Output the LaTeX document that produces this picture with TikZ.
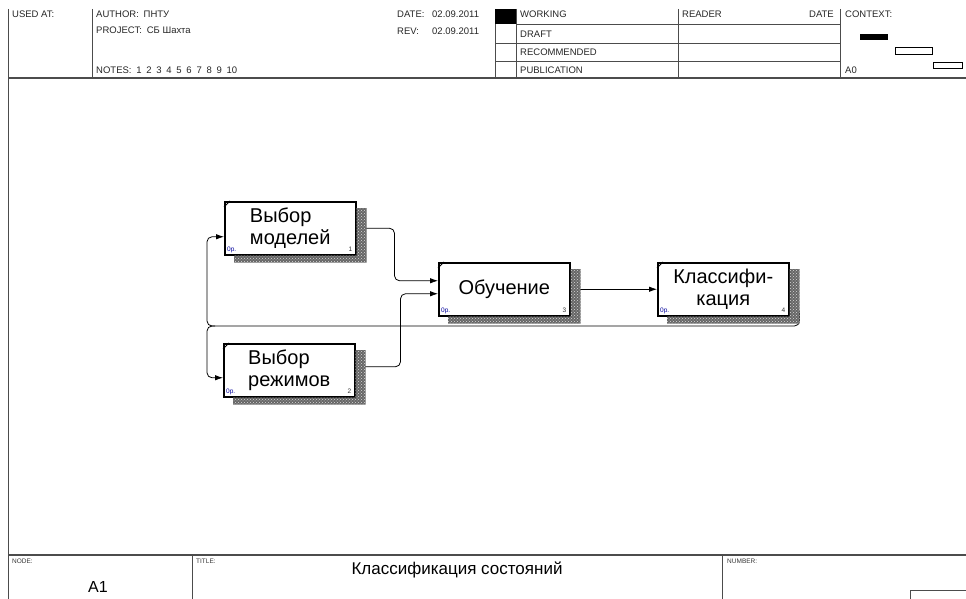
\documentclass[tikz,border=0pt]{standalone}
\usepackage{fontspec}
\setmainfont{Liberation Sans}
\usetikzlibrary{positioning,arrows.meta,patterns,calc}

\begin{document}
\begin{tikzpicture}[x=1pt, y=-1pt,
  frame/.style={draw=black!70, line width=0.7pt},
  hdr/.style  ={anchor=base west, inner sep=0pt, font=\fontsize{9.5}{11}\selectfont, text=black!85},
  tiny/.style ={anchor=base west, inner sep=0pt, font=\fontsize{6.5}{7}\selectfont, text=black!80},
  func/.style ={draw, line width=1.5pt, minimum width=131pt, minimum height=53pt,
                anchor=north west, align=left, inner sep=2pt, font=\fontsize{20}{22}\selectfont},
  shadow/.style={fill=black!60, postaction={pattern=crosshatch dots, pattern color=white!85!black}},
  arr/.style  ={-{Latex[length=8pt,width=5.5pt]}, line width=0.8pt, rounded corners=5pt}]

\useasboundingbox (0,0) rectangle (966,599);

\draw[frame] (8,9) -- (8,599);
\draw[frame, line width=1.2pt] (8,78) -- (966,78);
\foreach \xx in {92,495,516,678,840} \draw[frame] (\xx,9) -- (\xx,78);
\draw[frame] (516,24) -- (840,24);
\draw[frame] (495,43) -- (840,43);
\draw[frame] (495,61) -- (840,61);
\fill (495,9) rectangle (516,24);
\fill (860,34) rectangle (888,40);
\draw[line width=0.6pt] (895,47) rectangle (932,54);
\draw[line width=0.6pt] (933,62) rectangle (962,68);

\node[hdr] (usedat)  at (12,18)  {USED AT:};
\node[hdr] (author)  at (96,18)  {AUTHOR:\enspace ПНТУ};
\node[hdr] (project) at (96,34)  {PROJECT:\enspace СБ Шахта};
\node[hdr] (notes)   at (96,74)  {NOTES:\enspace 1\enspace 2\enspace 3\enspace 4\enspace 5\enspace 6\enspace 7\enspace 8\enspace 9\enspace 10};
\node[hdr] (date)    at (397,18) {DATE:};
\node[hdr] (dateval) at (432,18) {02.09.2011};
\node[hdr] (rev)     at (397,35) {REV:};
\node[hdr] (revval)  at (432,35) {02.09.2011};
\node[hdr] (working) at (520,18) {WORKING};
\node[hdr] (draft)   at (520,38) {DRAFT};
\node[hdr] (recomm)  at (520,56) {RECOMMENDED};
\node[hdr] (public)  at (520,74) {PUBLICATION};
\node[hdr] (reader)  at (682,18) {READER};
\node[hdr, anchor=base east] (rdate) at (834,18) {DATE};
\node[hdr] (context) at (845,18) {CONTEXT:};
\node[hdr] (ctxnode) at (845,74) {A0};

\draw[frame, line width=1.2pt] (8,555) -- (966,555);
\draw[frame] (192,555) -- (192,599);
\draw[frame] (722,555) -- (722,599);
\draw[frame] (966,590) -- (910,590) -- (910,599);
\node[tiny] (nodelbl)  at (12,563)  {NODE:};
\node[tiny] (titlelbl) at (196,563) {TITLE:};
\node[tiny] (numlbl)   at (727,563) {NUMBER:};
\node[anchor=base, inner sep=0pt, font=\fontsize{16}{18}\selectfont] (nodeno) at (98,592) {A1};
\node[anchor=base, inner sep=0pt, font=\fontsize{17}{19}\selectfont] (title) at (457,574) {Классификация состояний};

\node[func] (sel1)  at (224,201) {Выбор\\моделей};
\node[func] (sel2)  at (223,343) {Выбор\\режимов};
\node[func, align=center] (learn) at (438,262) {Обучение};
\node[func, align=center] (clsf)  at (657,262) {Классифи-\\кация};

\coordinate (fbk) at (207,326);

\draw[arr] (sel1.east) -- ++(38,0) |- ([yshift=8.5pt]learn.west);
\draw[arr] ([yshift=3.5pt]sel2.east) -- ++(45,0) |- ([yshift=-4.5pt]learn.west);
\draw[arr] (learn.east) -- (clsf.west);
\draw[arr] ([yshift=-18pt]clsf.east) -- ++(10,0) |- (fbk) |- ([yshift=-8.5pt]sel1.west);
\draw[arr] (fbk) ++(8,0) -| ++(-8,25) |- ([yshift=-7.5pt]sel2.west);

\foreach \b/\n in {sel1/1, sel2/2, learn/3, clsf/4} {
  \fill[shadow] ([yshift=-7pt]\b.north east) -| ([xshift=10pt,yshift=-7pt]\b.south east)
     -| ([xshift=10pt]\b.south west) |- (\b.south east) -- cycle;
  \draw[line width=0.8pt] ([yshift=-6pt]\b.north west) -- ([xshift=6pt]\b.north west);
  \node[tiny, text=blue!60!black] (\b-op) at ([xshift=3pt,yshift=4pt]\b.south west) {0р.};
  \node[tiny, anchor=base east] (\b-no) at ([xshift=-4pt,yshift=4pt]\b.south east) {\n};
}
\end{tikzpicture}
\end{document}
